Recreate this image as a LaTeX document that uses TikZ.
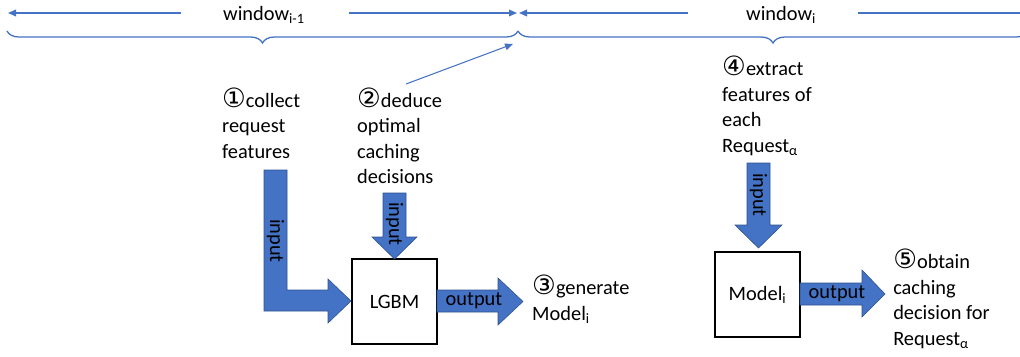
\documentclass[tikz,border=0pt]{standalone}
\usepackage{fontspec}
\setmainfont{Carlito}
\newfontfamily\symfont{DejaVu Sans}
\usepackage{tikz}
\usetikzlibrary{arrows.meta,decorations.pathreplacing,positioning}
\definecolor{office}{RGB}{68,114,196}
\definecolor{officedark}{RGB}{47,82,143}
\newcommand{\lbl}{\fontsize{17.4}{21.7}\selectfont}
\newcommand{\num}[1]{\scalebox{1.3}{\symfont #1}}

\begin{document}
\begin{tikzpicture}[x=0.03cm,y=-0.03cm,
    txt/.style={font=\lbl,align=left,anchor=base west,inner sep=0pt},
    blk/.style={fill=office,draw=officedark,line width=0.5pt},
    box/.style={draw=black,line width=1pt,fill=white,minimum width=2.55cm,minimum height=2.55cm,font=\lbl,inner sep=0pt},
    thin/.style={draw=office,line width=1.1pt},
    tip/.style={-{Triangle[length=0.24cm,width=0.2cm]}}]
    \useasboundingbox (0,0) rectangle (1020,356);

    % Fenetres
    \node[txt] (winA) at (223,20) {window\textsubscript{i-1}};
    \node[txt] (winB) at (746,20) {window\textsubscript{i}};
    \coordinate (aL) at (8,13);
    \coordinate (aM) at (181,13);
    \coordinate (aN) at (349,13);
    \coordinate (aR) at (517,13);
    \coordinate (bL) at (519,13);
    \coordinate (bM) at (688,13);
    \coordinate (bN) at (858,13);
    \coordinate (bR) at (1030,13);
    \draw[thin,tip] (aM) -- (aL);
    \draw[thin,tip] (aN) -- (aR);
    \draw[thin,tip] (bM) -- (bL);
    \draw[thin] (bN) -- (bR);

    % Accolades
    \draw[thin,decorate,decoration={brace,mirror,amplitude=0.36cm}] (7,31) -- (518,31);
    \draw[thin,decorate,decoration={brace,mirror,amplitude=0.36cm}] (518,31) -- (1028,31);

    % Fleche fine vers la limite
    \coordinate (pA) at (406,84);
    \coordinate (pB) at (513,44);
    \draw[thin,line width=0.9pt,tip] (pA) -- (pB);

    % Etapes (ancre = ligne de base de la derniere ligne)
    \node[txt] (s1) at (222,158) {\num{①}collect\\request\\features};
    \node[txt] (s2) at (357,183.5) {\num{②}deduce\\optimal\\caching\\decisions};
    \node[txt] (s3) at (532,320) {\num{③}generate\\Model\textsubscript{i}};
    \node[txt] (s4) at (722,152) {\num{④}extract\\features of\\each\\Request\textsubscript{α}};
    \node[txt] (s5) at (893,345) {\num{⑤}obtain\\caching\\decision for\\Request\textsubscript{α}};

    % Boites
    \node[box] (lgbm) at (394.5,301.5) {LGBM};
    \node[box] (model) at (757.5,294.5) {Model\textsubscript{i}};

    % Fleches pleines
    \draw[blk] (264,170) -- (287,170) -- (287,290) -- (328,290) -- (328,279)
        -- (351,301) -- (328,323) -- (328,311) -- (264,311) -- cycle;
    \draw[blk] (383,193) -- (406,193) -- (406,237) -- (417,237) -- (394.5,259)
        -- (372,237) -- (383,237) -- cycle;
    \draw[blk] (437,290) -- (498,290) -- (498,278) -- (523,301.5) -- (498,325)
        -- (498,312) -- (437,312) -- cycle;
    \draw[blk] (747,163) -- (770,163) -- (770,225) -- (782,225) -- (758.5,248)
        -- (735,225) -- (747,225) -- cycle;
    \draw[blk] (800,283) -- (862,283) -- (862,270) -- (885,294) -- (862,317)
        -- (862,305) -- (800,305) -- cycle;

    % Etiquettes des fleches
    \node[font=\lbl,rotate=-90,inner sep=0pt] (in1) at (275.5,241) {input};
    \node[font=\lbl,rotate=-90,inner sep=0pt] (in2) at (394.5,224) {input};
    \node[font=\lbl,rotate=-90,inner sep=0pt] (in3) at (758.5,195) {input};
    \node[font=\lbl,inner sep=0pt] (out1) at (474,301) {output};
    \node[font=\lbl,inner sep=0pt] (out2) at (837,294) {output};

\end{tikzpicture}
\end{document}
